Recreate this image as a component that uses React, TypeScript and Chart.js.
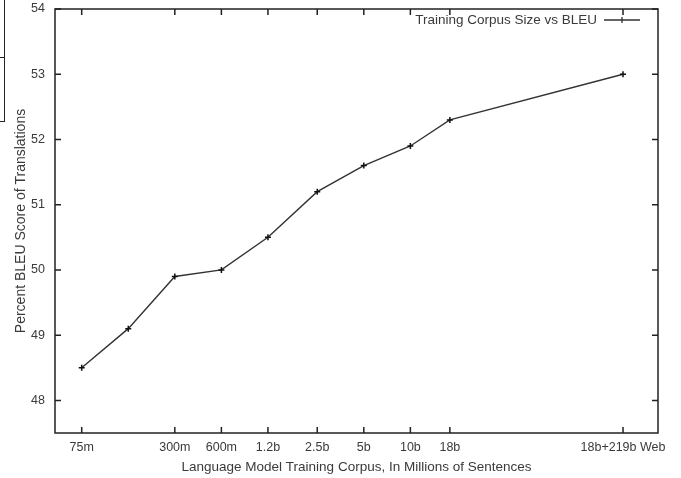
import React, { useEffect, useRef } from "react";
import { Chart, registerables } from "chart.js";

Chart.register(...registerables);

// corpus size in millions of sentences
const corpusSizes = [75, 150, 300, 600, 1200, 2500, 5000, 10000, 18000, 237000];
const bleuScores = [48.5, 49.1, 49.9, 50.0, 50.5, 51.2, 51.6, 51.9, 52.3, 53.0];
const xTickValues = [75, 300, 600, 1200, 2500, 5000, 10000, 18000, 237000];
const xTickLabels = ["75m", "300m", "600m", "1.2b", "2.5b", "5b", "10b", "18b", "18b+219b Web"];
const yTickValues = [48, 49, 50, 51, 52, 53, 54];
const seriesLabel = "Training Corpus Size vs BLEU";
const xTitle = "Language Model Training Corpus, In Millions of Sentences";
const yTitle = "Percent BLEU Score of Translations";

const FONT = "'Liberation Sans', Arial, Helvetica, sans-serif";
const TEXT = "#3a3a3a";
const INK = "#222";

const framePlugin = {
  id: "gnuplotFrame",
  afterDraw(chart: any) {
    const { ctx, chartArea: a, scales } = chart;
    const xs = scales.x;
    const ys = scales.y;
    const tl = 6;
    ctx.save();
    ctx.strokeStyle = INK;
    ctx.lineWidth = 1.5;
    ctx.strokeRect(a.left, a.top, a.right - a.left, a.bottom - a.top);
    ctx.beginPath();
    xs.ticks.forEach((t: any) => {
      const x = xs.getPixelForValue(t.value);
      ctx.moveTo(x, a.bottom);
      ctx.lineTo(x, a.bottom - tl);
      ctx.moveTo(x, a.top);
      ctx.lineTo(x, a.top + tl);
    });
    ys.ticks.forEach((t: any) => {
      const y = ys.getPixelForValue(t.value);
      ctx.moveTo(a.left, y);
      ctx.lineTo(a.left + tl, y);
      ctx.moveTo(a.right, y);
      ctx.lineTo(a.right - tl, y);
    });
    ctx.stroke();

    // legend inside plot, top-right, gnuplot style
    const ds = chart.data.datasets[0];
    const lineEnd = a.right - 18;
    const lineStart = lineEnd - 36;
    const ly = a.top + 11;
    ctx.font = `13.5px ${FONT}`;
    ctx.fillStyle = TEXT;
    ctx.textAlign = "right";
    ctx.textBaseline = "middle";
    ctx.fillText(ds.label, lineStart - 7, ly);
    ctx.strokeStyle = "#333";
    ctx.lineWidth = 1.3;
    ctx.beginPath();
    ctx.moveTo(lineStart, ly);
    ctx.lineTo(lineEnd, ly);
    const mx = (lineStart + lineEnd) / 2;
    ctx.moveTo(mx - 3, ly);
    ctx.lineTo(mx + 3, ly);
    ctx.moveTo(mx, ly - 3);
    ctx.lineTo(mx, ly + 3);
    ctx.stroke();
    ctx.restore();
  },
};

export default function App() {
  const ref = useRef<HTMLCanvasElement | null>(null);

  useEffect(() => {
    document.body.style.margin = "0";
    const canvas = ref.current;
    if (!canvas) return;
    const chart = new Chart(canvas, {
      type: "line",
      data: {
        datasets: [
          {
            label: seriesLabel,
            data: corpusSizes.map((x, i) => ({ x, y: bleuScores[i] })),
            borderColor: "#333",
            backgroundColor: "#333",
            borderWidth: 1.4,
            pointStyle: "cross",
            pointRadius: 3,
            pointBorderWidth: 1.5,
            pointBorderColor: "#111",
            tension: 0,
            fill: false,
          },
        ],
      },
      options: {
        responsive: false,
        animation: false,
        devicePixelRatio: 1,
        layout: { padding: { top: 9, right: 23, bottom: 0, left: 0 } },
        plugins: {
          legend: { display: false },
          tooltip: { enabled: false },
        },
        scales: {
          x: {
            type: "logarithmic",
            min: 50.4,
            max: 399000,
            afterBuildTicks: (scale: any) => {
              scale.ticks = xTickValues.map((v) => ({ value: v }));
            },
            afterFit: (scale: any) => {
              scale.height = 45;
              scale.paddingLeft = 0;
              scale.paddingRight = 0;
            },
            grid: { display: false, drawTicks: false },
            border: { display: false },
            ticks: {
              autoSkip: false,
              maxRotation: 0,
              minRotation: 0,
              padding: 7,
              color: TEXT,
              font: { family: FONT, size: 12.5 },
              callback: (value: any) => {
                const i = xTickValues.indexOf(Number(value));
                return i >= 0 ? xTickLabels[i] : "";
              },
            },
            title: {
              display: true,
              text: xTitle,
              color: TEXT,
              font: { family: FONT, size: 13.5 },
              padding: { top: 0, bottom: 3 },
            },
          },
          y: {
            type: "linear",
            min: 47.5,
            max: 54,
            afterBuildTicks: (scale: any) => {
              scale.ticks = yTickValues.map((v) => ({ value: v }));
            },
            afterFit: (scale: any) => {
              scale.width = 55;
              scale.paddingTop = 0;
              scale.paddingBottom = 0;
            },
            grid: { display: false, drawTicks: false },
            border: { display: false },
            ticks: {
              padding: 10,
              color: TEXT,
              font: { family: FONT, size: 12.5 },
            },
            title: {
              display: true,
              text: yTitle,
              color: TEXT,
              font: { family: FONT, size: 14 },
              padding: { top: 13, bottom: 0 },
            },
          },
        },
      },
      plugins: [framePlugin],
    });
    return () => chart.destroy();
  }, []);

  return (
    <div style={{ position: "relative", width: 681, height: 478, background: "#fff" }}>
      <canvas ref={ref} width={681} height={478} style={{ display: "block" }} />
      <div
        style={{
          position: "absolute",
          left: 0,
          top: 0,
          width: 5,
          height: 122,
          borderRight: "1.5px solid #222",
          borderBottom: "1.5px solid #222",
          boxSizing: "border-box",
        }}
      />
      <div
        style={{
          position: "absolute",
          left: 0,
          top: 57,
          width: 5,
          height: 0,
          borderTop: "1.5px solid #222",
        }}
      />
    </div>
  );
}
